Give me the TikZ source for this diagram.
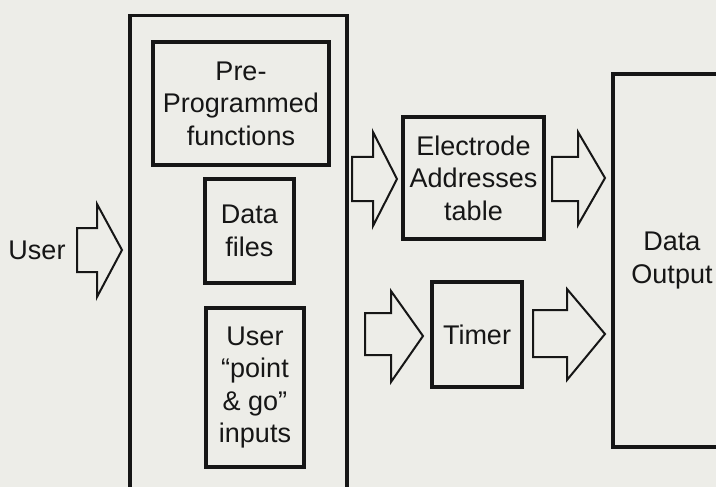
\documentclass[tikz,border=0pt]{standalone}
\usepackage{fontspec}
\setmainfont{Liberation Sans}
\definecolor{paper}{RGB}{237,237,232}
\definecolor{ink}{RGB}{22,22,22}
\begin{document}
\begin{tikzpicture}[x=1pt,y=-1pt,
  box/.style={draw=ink, line width=3.4pt, fill=paper, align=center, inner sep=0pt,
    font=\fontsize{27}{32.5}\selectfont, text=ink},
  blockarrow/.style={draw=ink, line width=2pt, fill=paper, line join=miter},
  lbl/.style={align=center, font=\fontsize{27}{32.5}\selectfont, text=ink, inner sep=0pt}]
\useasboundingbox (0,0) rectangle (716,487);
\clip (0,0) rectangle (716,487);
\fill[paper] (0,0) rectangle (716,487);

% outer controller frame (runs off the bottom)
\node[box, minimum width=217pt, minimum height=475pt] (ctrl) at (238.5,253) {};

% inner blocks
\node[box, minimum width=176pt, minimum height=123pt] (pre) at (241,103.5)
  {Pre-\\Programmed\\functions};
\node[box, minimum width=89pt, minimum height=104pt] (files) at (249.5,231)
  {Data\\files};
\node[box, minimum width=98pt, minimum height=159pt] (pg) at (255,387.5)
  {User\\“point\\\& go”\\inputs};

\node[box, minimum width=141pt, minimum height=122pt] (elec) at (473.5,178)
  {Electrode\\Addresses\\table};
\node[box, minimum width=90pt, minimum height=105pt] (timer) at (477,334.5)
  {Timer};

% output block (runs off the right edge)
\node[box, minimum width=118pt, minimum height=373pt] (out) at (672,260.5)
  {Data\\Output};

\node[lbl] (user) at (37,250) {User};

% hollow block arrows
\draw[blockarrow] (77,228) -- (97,228) -- (97,204) -- (122,250) -- (97,297)
  -- (97,272) -- (77,272) -- cycle;
\draw[blockarrow] (352,157) -- (373,157) -- (373,132) -- (397,179) -- (373,226)
  -- (373,201) -- (352,201) -- cycle;
\draw[blockarrow] (552,157) -- (578,157) -- (578,132) -- (605,178) -- (578,225)
  -- (578,201) -- (552,201) -- cycle;
\draw[blockarrow] (365,313) -- (391,313) -- (391,291) -- (423,336) -- (391,382)
  -- (391,355) -- (365,355) -- cycle;
\draw[blockarrow] (533,310) -- (567,310) -- (567,289) -- (605,334) -- (567,380)
  -- (567,357) -- (533,357) -- cycle;
\end{tikzpicture}
\end{document}
